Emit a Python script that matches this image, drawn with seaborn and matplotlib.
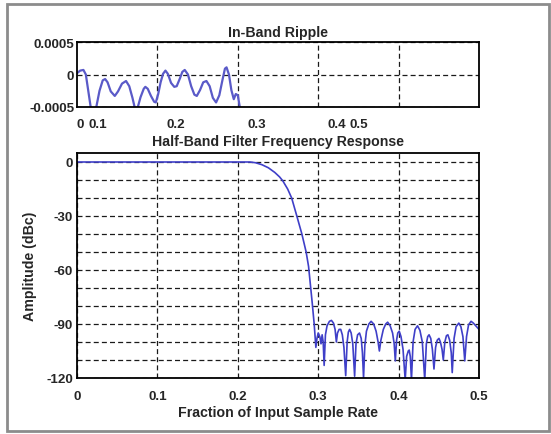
import numpy as np
import pandas as pd
import matplotlib
matplotlib.use('Agg')
import matplotlib.pyplot as plt
from matplotlib.ticker import MultipleLocator
from matplotlib.patches import Rectangle
import seaborn as sns

# In-band ripple (passband), y in units of 1e-4
ripple_x = [0.000, 0.004, 0.008, 0.011, 0.014, 0.017, 0.020, 0.024, 0.028, 0.032,
            0.035, 0.038, 0.042, 0.047, 0.051, 0.056, 0.061, 0.065, 0.069, 0.072,
            0.075, 0.079, 0.083, 0.085, 0.088, 0.092, 0.096, 0.098, 0.101, 0.104,
            0.107, 0.110, 0.113, 0.117, 0.121, 0.124, 0.128, 0.131, 0.134, 0.138,
            0.142, 0.146, 0.149, 0.153, 0.157, 0.161, 0.165, 0.169, 0.173, 0.177,
            0.181, 0.184, 0.186, 0.189, 0.192, 0.195, 0.1975, 0.200, 0.203]
ripple_y = [0.2, 0.6, 0.7, 0.0, -2.5, -5.0, -6.0, -5.0, -2.5, -0.9,
            -0.7, -1.2, -2.6, -3.3, -2.6, -1.4, -1.0, -1.8, -3.6, -5.2,
            -5.3, -3.5, -2.2, -1.9, -2.2, -3.3, -4.2, -4.3, -3.0, -1.2,
            0.1, 0.6, 0.1, -1.3, -1.9, -1.8, -0.6, 0.4, 0.7, 0.0,
            -1.8, -3.1, -3.3, -2.4, -1.2, -1.0, -1.8, -3.6, -4.3, -3.2,
            -0.8, 0.9, 1.1, 0.0, -2.4, -3.8, -3.0, -3.2, -5.4]

# Full frequency response in dBc
resp_x = [0.000, 0.100, 0.200, 0.215, 0.222, 0.230, 0.238, 0.246, 0.252, 0.256,
          0.262, 0.267, 0.2734, 0.2797, 0.285, 0.288, 0.2897, 0.2925, 0.295, 0.2971,
          0.2985, 0.3000, 0.3020, 0.3035, 0.3049, 0.3062, 0.3074, 0.3090, 0.3110, 0.3140,
          0.3165, 0.3190, 0.3210, 0.3226, 0.3240, 0.3260, 0.3280, 0.3300, 0.3320, 0.3342,
          0.3360, 0.3375, 0.3391, 0.3410, 0.3430, 0.3453, 0.3470, 0.3490, 0.3514, 0.3535,
          0.3550, 0.3564, 0.3580, 0.3600, 0.3630, 0.3658, 0.3690, 0.3720, 0.3745, 0.3761,
          0.3780, 0.3810, 0.3840, 0.3864, 0.3895, 0.3925, 0.3945, 0.3959, 0.3975, 0.3990,
          0.4008, 0.4030, 0.4055, 0.4082, 0.4100, 0.4120, 0.4132, 0.4145, 0.4160, 0.4180,
          0.4205, 0.4235, 0.4265, 0.4295, 0.4325, 0.4345, 0.4362, 0.4379, 0.4400, 0.4420,
          0.4440, 0.4460, 0.4480, 0.4502, 0.4520, 0.4540, 0.4556, 0.4575, 0.4595, 0.4613,
          0.4635, 0.4655, 0.4667, 0.4690, 0.4715, 0.4749, 0.4775, 0.4800, 0.4823, 0.4845,
          0.4870, 0.4901, 0.4930, 0.4960, 0.5000]
resp_db = [0, 0, 0, 0, -0.4, -1.5, -3.2, -5.8, -8.3, -10.5,
           -15, -20, -30, -40, -50, -58, -65.5, -78, -90, -103,
           -98, -95, -97, -101, -96, -100, -113, -96, -91, -88.5,
           -88, -89.5, -93, -100, -95, -93, -93, -96, -103, -118.7,
           -100, -94.5, -93, -95, -101, -119, -101, -96, -95, -98,
           -106, -120, -102, -94, -90, -88.5, -90, -94, -100, -105,
           -99, -93, -90, -89, -91, -95, -101, -110.5, -99, -95,
           -94, -97, -104, -121, -108, -105, -104.5, -108, -121, -100,
           -93, -91, -93.5, -100, -121, -101, -97, -96, -98, -104,
           -115, -103, -99, -98, -100, -104, -110, -100, -96.5, -96,
           -99, -106, -117, -98, -91.5, -89.5, -91.5, -97, -110.5, -97,
           -90.5, -88.5, -89.5, -91, -93]

# tick labels of the ripple plot, as printed (they are misplaced in the original)
ripple_xlabels = ['0', '0.1', '0.2', '0.3', '0.4', '0.5']
ripple_ylabels = ['-0.0005', '0', '0.0005']
resp_yticks = [0, -30, -60, -90, -120]

df_rip = pd.DataFrame({'f': ripple_x, 'a': np.array(ripple_y) * 1e-4})
df_resp = pd.DataFrame({'f': resp_x, 'db': resp_db})

sns.set_style('white')
plt.rcParams['font.family'] = ['Liberation Sans', 'DejaVu Sans']
plt.rcParams['font.weight'] = 'bold'

fig = plt.figure(figsize=(5.51, 4.35), dpi=100)
fig.patches.append(Rectangle((7 / 551, 3 / 435), 542 / 551, 427 / 435,
                             transform=fig.transFigure, fill=False,
                             ec='#8c8c8c', lw=2))

grid_kw = dict(color='#1a1a1a', linestyle=(0, (4, 2.5)), linewidth=0.9)
line_col = '#3f3fc8'
tick_fs = 9.6
lab_fs = 10.2

# ---- top: in-band ripple
ax1 = fig.add_axes([77 / 551, 1 - 108 / 435, 402 / 551, 65 / 435])
sns.lineplot(data=df_rip, x='f', y='a', ax=ax1, color='#5a5ac8', lw=1.6,
             estimator=None, sort=False)
ax1.set_xlim(0, 0.5)
ax1.set_ylim(-0.0005, 0.0005)
ax1.set_xticks([0.1, 0.2, 0.3, 0.4])
ax1.set_xticklabels([])
ax1.set_xticks([0.0037, 0.0255, 0.1227, 0.2239, 0.3234, 0.3507],
               ripple_xlabels, minor=True)
ax1.set_yticks([-0.0005, 0, 0.0005], ripple_ylabels)
ax1.grid(True, which='major', **grid_kw)
ax1.tick_params(which='both', length=0, labelsize=tick_fs)
ax1.tick_params(axis='x', which='minor', pad=8)
ax1.tick_params(axis='y', pad=2)
ax1.set_xlabel('')
ax1.set_ylabel('')
ax1.set_title('In-Band Ripple', fontsize=lab_fs, fontweight='bold', pad=4)

# ---- bottom: full response
ax2 = fig.add_axes([77 / 551, 1 - 379 / 435, 402 / 551, 225 / 435])
sns.lineplot(data=df_resp, x='f', y='db', ax=ax2, color=line_col, lw=1.2,
             estimator=None, sort=False)
ax2.set_xlim(0, 0.5)
ax2.set_ylim(-120, 5)
ax2.set_xticks([0, 0.1, 0.2, 0.3, 0.4, 0.5], ['0', '0.1', '0.2', '0.3', '0.4', '0.5'])
ax2.set_yticks(resp_yticks, [str(v) for v in resp_yticks])
ax2.yaxis.set_minor_locator(MultipleLocator(10))
ax2.grid(True, which='both', **grid_kw)
ax2.tick_params(which='both', length=0, labelsize=tick_fs)
ax2.tick_params(axis='x', pad=8.5)
ax2.tick_params(axis='y', pad=3)
ax2.set_title('Half-Band Filter Frequency Response', fontsize=lab_fs,
              fontweight='bold', pad=6)
ax2.set_xlabel('Fraction of Input Sample Rate', fontsize=lab_fs, fontweight='bold')
ax2.set_ylabel('Amplitude (dBc)', fontsize=lab_fs, fontweight='bold')
ax2.xaxis.set_label_coords(0.5, -0.151)
ax2.xaxis.label.set_va('center')
ax2.yaxis.set_label_coords(-0.118, 0.5)
ax2.yaxis.label.set_va('center')

for ax in (ax1, ax2):
    for s in ax.spines.values():
        s.set_color('black')
        s.set_linewidth(1.3)
    ax.set_axisbelow(True)

fig.savefig('out.png', dpi=100)
